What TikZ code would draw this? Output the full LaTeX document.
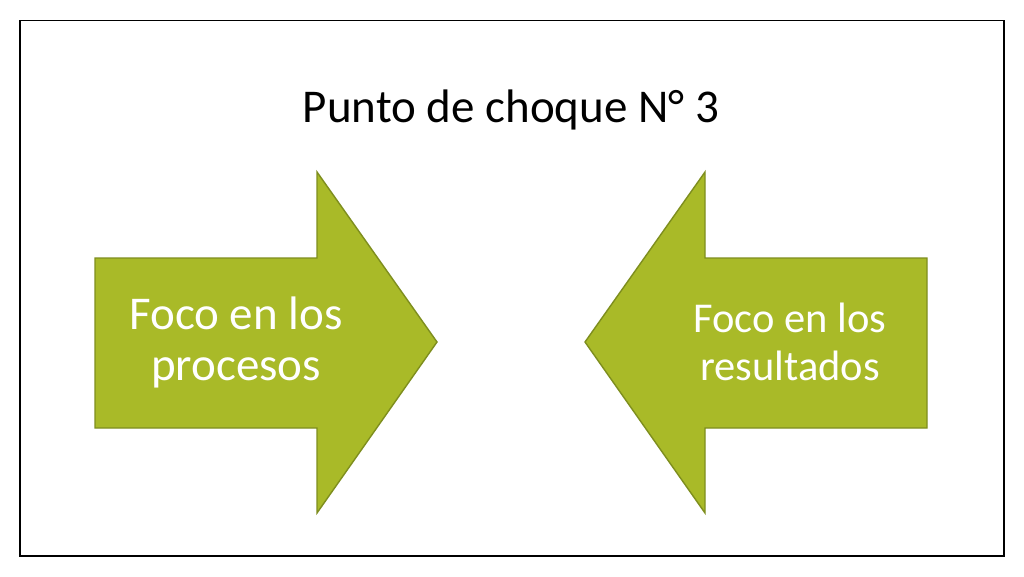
\documentclass[tikz,border=0pt]{standalone}
\usepackage{fontspec}
\setmainfont{Carlito}
\definecolor{arrowfill}{HTML}{A9BA28}
\definecolor{arrowline}{HTML}{7E8E1E}
\tikzset{
  arrowshape/.style={fill=arrowfill, draw=arrowline, line width=1.4pt, line join=miter},
  arrowtext/.style={text=white, align=center, inner sep=0pt, font=\fontsize{47}{51}\selectfont},
  titletext/.style={text=black, inner sep=0pt, font=\fontsize{47}{54}\selectfont}
}
\begin{document}
\begin{tikzpicture}[x=1pt,y=-1pt]
\useasboundingbox (0,0) rectangle (1024,576);
\fill[white] (0,0) rectangle (1024,576);
\draw[black, line width=1.2pt] (20,20.5) rectangle (1004,556);
\node[titletext, anchor=base] (title) at (511,122) {Punto de choque N° 3};
% left arrow
\draw[arrowshape] (95,258) -- (317,258) -- (317,172) -- (437,342) -- (317,513) -- (317,428) -- (95,428) -- cycle;
% right arrow
\draw[arrowshape] (927,258) -- (705,258) -- (705,172) -- (585,342) -- (705,513) -- (705,428) -- (927,428) -- cycle;
\node[arrowtext, anchor=base] (lt) at (236,380) {Foco en los\\procesos};
\node[arrowtext, anchor=base, font=\fontsize{42.5}{48}\selectfont] (rt) at (790,380) {Foco en los\\resultados};
\end{tikzpicture}
\end{document}
